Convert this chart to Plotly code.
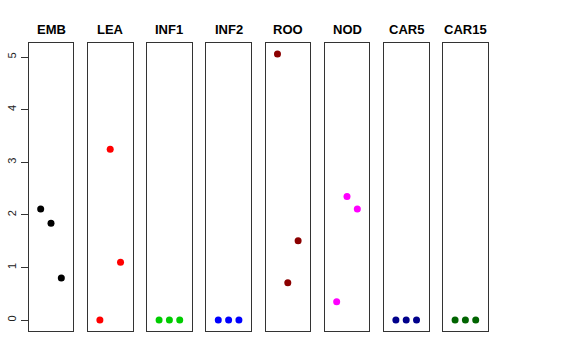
import plotly.graph_objects as go

categories = ["EMB", "LEA", "INF1", "INF2", "ROO", "NOD", "CAR5", "CAR15"]
replicates = [1, 2, 3]
emb = [2.11, 1.84, 0.80]
lea = [0.0, 3.25, 1.10]
inf1 = [0.0, 0.0, 0.0]
inf2 = [0.0, 0.0, 0.0]
roo = [5.06, 0.71, 1.51]
nod = [0.35, 2.35, 2.11]
car5 = [0.0, 0.0, 0.0]
car15 = [0.0, 0.0, 0.0]
colors = ["#000000", "#FF0000", "#00CD00", "#0000FF", "#8B0000", "#FF00FF", "#00008B", "#006400"]
y_ticks = [0, 1, 2, 3, 4, 5]

series = [emb, lea, inf1, inf2, roo, nod, car5, car15]

W, H = 576, 360
left0, step, pw = 28.7, 59.2, 44.6
ybot, ytop = 330.7, 43.3
ydom = [(H - ybot) / H, (H - ytop) / H]

fig = go.Figure()
layout = dict(
    width=W, height=H,
    margin=dict(l=0, r=0, t=0, b=0),
    paper_bgcolor="white", plot_bgcolor="white",
    showlegend=False,
    font=dict(family="Liberation Sans, Arial, sans-serif", color="black"),
)
annotations = []
ymax = max(max(s) for s in series)
yr = [0 - 0.04 * ymax, ymax * 1.04]
for i, (cat, vals, col) in enumerate(zip(categories, series, colors)):
    n = "" if i == 0 else str(i + 1)
    x0 = left0 + step * i
    fig.add_trace(go.Scatter(
        x=replicates, y=vals, mode="markers",
        marker=dict(color=col, size=7, line=dict(width=0)),
        xaxis="x" + n, yaxis="y" + n, hoverinfo="skip",
    ))
    layout["xaxis" + n] = dict(
        domain=[x0 / W, (x0 + pw) / W], range=[-0.16, 4.16],
        showgrid=False, zeroline=False, showticklabels=False, ticks="",
        showline=True, mirror=True, linecolor="#333333", linewidth=1,
        anchor="y" + n, fixedrange=True,
    )
    ya = dict(
        domain=ydom, range=yr, showgrid=False, zeroline=False,
        showline=True, mirror=True, linecolor="#333333", linewidth=1,
        anchor="x" + n, fixedrange=True, automargin=False,
    )
    if i == 0:
        ya.update(tickvals=y_ticks, ticks="outside", ticklen=7, tickcolor="#333333",
                  tickangle=-90, tickfont=dict(size=11, color="#222222"), showticklabels=True)
    else:
        ya.update(showticklabels=False, ticks="")
    layout["yaxis" + n] = ya
    annotations.append(dict(
        text="<b>" + cat + "</b>", x=(x0 + pw / 2) / W, y=(H - 29) / H,
        xref="paper", yref="paper", showarrow=False, xanchor="center", yanchor="middle",
        font=dict(size=13, color="black"),
    ))
layout["annotations"] = annotations
fig.update_layout(**layout)
fig.write_html("out.html", config={"displayModeBar": False},
               post_script="document.body.style.margin='0';document.body.style.padding='0';")
